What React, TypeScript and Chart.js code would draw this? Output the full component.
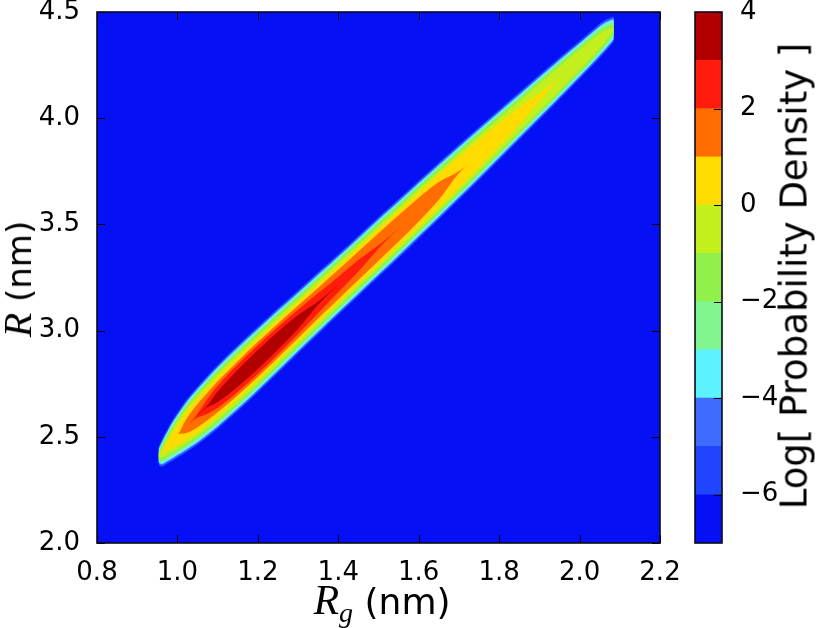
import React, { useEffect, useRef } from "react";
import { Chart, registerables } from "chart.js";
Chart.register(...registerables);

// ---------- data ----------
// stations along Rg (nm) where contour outlines were read
const rgStations = [0.953, 0.96, 0.975, 0.99, 1.005, 1.02, 1.045, 1.075, 1.1, 1.15, 1.2, 1.25, 1.3, 1.355, 1.4, 1.45, 1.51, 1.55, 1.6, 1.65, 1.7, 1.75, 1.8, 1.85, 1.915, 1.95, 2.0, 2.03, 2.06, 2.085];
// ridge centre R (nm) at each station
const ridgeCenter = [2.41, 2.42, 2.455, 2.488, 2.518, 2.547, 2.591, 2.644, 2.688, 2.776, 2.864, 2.953, 3.041, 3.138, 3.217, 3.305, 3.411, 3.481, 3.57, 3.658, 3.746, 3.834, 3.922, 4.01, 4.125, 4.187, 4.275, 4.328, 4.381, 4.42];
// vertical half-width (nm) of each contour level at each station
const hwLevelM6 = [0.043, 0.061, 0.082, 0.098, 0.111, 0.122, 0.135, 0.145, 0.151, 0.155, 0.155, 0.153, 0.149, 0.146, 0.144, 0.142, 0.141, 0.139, 0.137, 0.134, 0.13, 0.125, 0.119, 0.112, 0.104, 0.099, 0.09, 0.085, 0.078, 0.06];
const hwLevelM5 = [0.037, 0.056, 0.075, 0.093, 0.104, 0.117, 0.128, 0.14, 0.144, 0.15, 0.148, 0.148, 0.142, 0.141, 0.137, 0.137, 0.134, 0.134, 0.13, 0.129, 0.123, 0.12, 0.112, 0.107, 0.097, 0.093, 0.083, 0.079, 0.071, 0.054];
const hwLevelM4 = [0.03, 0.048, 0.069, 0.085, 0.098, 0.109, 0.122, 0.132, 0.138, 0.142, 0.142, 0.14, 0.136, 0.133, 0.131, 0.129, 0.128, 0.126, 0.124, 0.121, 0.117, 0.112, 0.106, 0.099, 0.091, 0.086, 0.077, 0.072, 0.064, 0.047];
const hwLevelM3 = [0.022, 0.04, 0.061, 0.077, 0.09, 0.101, 0.114, 0.124, 0.13, 0.134, 0.134, 0.132, 0.128, 0.125, 0.123, 0.121, 0.12, 0.118, 0.116, 0.113, 0.109, 0.104, 0.098, 0.091, 0.083, 0.078, 0.069, 0.064, 0.055, 0.038];
const hwLevelM2 = [0.014, 0.031, 0.052, 0.068, 0.081, 0.092, 0.105, 0.115, 0.121, 0.125, 0.125, 0.123, 0.119, 0.116, 0.114, 0.112, 0.111, 0.109, 0.107, 0.104, 0.1, 0.095, 0.089, 0.082, 0.074, 0.069, 0.06, 0.055, 0.045, 0.026];
const hwLevelM1 = [0.004, 0.02, 0.04, 0.056, 0.069, 0.08, 0.093, 0.103, 0.109, 0.113, 0.113, 0.111, 0.107, 0.104, 0.102, 0.1, 0.099, 0.097, 0.095, 0.092, 0.088, 0.083, 0.077, 0.07, 0.061, 0.056, 0.047, 0.04, 0.028, 0.006];
const hwLevel0 = [0, 0, 0.018, 0.036, 0.052, 0.064, 0.077, 0.087, 0.093, 0.097, 0.098, 0.096, 0.092, 0.088, 0.086, 0.085, 0.084, 0.082, 0.08, 0.077, 0.072, 0.064, 0.054, 0.04, 0.012, 0, 0, 0, 0, 0];
const hwLevel1 = [0, 0, 0, 0, 0.004, 0.03, 0.052, 0.065, 0.073, 0.08, 0.083, 0.081, 0.077, 0.072, 0.069, 0.067, 0.065, 0.062, 0.056, 0.042, 0.004, 0, 0, 0, 0, 0, 0, 0, 0, 0];
const hwLevel2 = [0, 0, 0, 0, 0, 0, 0.005, 0.035, 0.052, 0.064, 0.067, 0.064, 0.057, 0.046, 0.037, 0.027, 0.005, 0, 0, 0, 0, 0, 0, 0, 0, 0, 0, 0, 0, 0];
const hwLevel3 = [0, 0, 0, 0, 0, 0, 0, 0.004, 0.025, 0.04, 0.045, 0.042, 0.032, 0.006, 0, 0, 0, 0, 0, 0, 0, 0, 0, 0, 0, 0, 0, 0, 0, 0];

// colour-bar bounds and band colours (Log[ Probability Density ])
const cbBounds = [-7, -6, -5, -4, -3, -2, -1, 0, 1, 2, 3, 4];
const bandColors = ["#0610f5", "#2145ff", "#3d6cff", "#5cf2ff", "#80f590", "#92f04a", "#c3f01c", "#ffdb00", "#ff6c00", "#ff1c0c", "#b20000"];
const cbTicks = [-6, -4, -2, 0, 2, 4];
const xTicks = [0.8, 1.0, 1.2, 1.4, 1.6, 1.8, 2.0, 2.2];
const yTicks = [2.0, 2.5, 3.0, 3.5, 4.0, 4.5];

const levelHalfWidths = [hwLevelM6, hwLevelM5, hwLevelM4, hwLevelM3, hwLevelM2, hwLevelM1, hwLevel0, hwLevel1, hwLevel2, hwLevel3];

const FONT = "DejaVu Sans";

const mainPlugin = {
  id: "mainFrame",
  beforeDatasetsDraw(chart: any) {
    const { ctx, chartArea: a } = chart;
    ctx.save();
    ctx.fillStyle = bandColors[0];
    ctx.fillRect(a.left, a.top, a.right - a.left, a.bottom - a.top);
    ctx.restore();
  },
  afterDatasetsDraw(chart: any) {
    const { ctx, chartArea: a, scales } = chart;
    ctx.save();
    ctx.strokeStyle = "#000";
    ctx.lineWidth = 1;
    ctx.beginPath();
    scales.x.ticks.forEach((t: any) => {
      const p = Math.round(scales.x.getPixelForValue(t.value)) + 0.5;
      ctx.moveTo(p, a.bottom); ctx.lineTo(p, a.bottom - 8);
      ctx.moveTo(p, a.top); ctx.lineTo(p, a.top + 8);
    });
    scales.y.ticks.forEach((t: any) => {
      const p = Math.round(scales.y.getPixelForValue(t.value)) + 0.5;
      ctx.moveTo(a.left, p); ctx.lineTo(a.left + 8, p);
      ctx.moveTo(a.right, p); ctx.lineTo(a.right - 8, p);
    });
    ctx.stroke();
    ctx.lineWidth = 1.6;
    ctx.strokeStyle = "#0a0a1a";
    ctx.strokeRect(a.left, a.top, a.right - a.left, a.bottom - a.top);
    ctx.restore();
  },
};

const cbPlugin = {
  id: "cbFrame",
  afterDatasetsDraw(chart: any) {
    const { ctx, chartArea: a, scales } = chart;
    ctx.save();
    ctx.strokeStyle = "#000";
    ctx.lineWidth = 1;
    ctx.beginPath();
    scales.y.ticks.forEach((t: any) => {
      const p = Math.round(scales.y.getPixelForValue(t.value)) + 0.5;
      ctx.moveTo(a.right, p); ctx.lineTo(a.right - 8, p);
    });
    ctx.stroke();
    ctx.lineWidth = 1.6;
    ctx.strokeStyle = "#0a0a1a";
    ctx.strokeRect(a.left, a.top, a.right - a.left, a.bottom - a.top);
    ctx.restore();
  },
};

function fmtMinus(v: number) {
  return v < 0 ? "\u2212" + Math.abs(v) : String(v);
}

export default function App() {
  const mainRef = useRef<HTMLCanvasElement | null>(null);
  const cbRef = useRef<HTMLCanvasElement | null>(null);

  useEffect(() => {
    Chart.defaults.font.family = FONT;
    const datasets: any[] = [];
    levelHalfWidths.forEach((hw, k) => {
      const idx: number[] = [];
      hw.forEach((w, i) => {
        if (w > 0 || (i > 0 && hw[i - 1] > 0) || (i < hw.length - 1 && hw[i + 1] > 0)) idx.push(i);
      });
      const upper = idx.map((i) => ({ x: rgStations[i], y: ridgeCenter[i] + hw[i] }));
      const lower = idx.map((i) => ({ x: rgStations[i], y: ridgeCenter[i] - hw[i] }));
      const color = bandColors[k + 1];
      datasets.push({
        data: upper, fill: "+1", backgroundColor: color, borderColor: "rgba(0,0,0,0)",
        borderWidth: 0, pointRadius: 0, order: 100 - k, cubicInterpolationMode: "monotone",
      });
      datasets.push({
        data: lower, fill: false, backgroundColor: color, borderColor: "rgba(0,0,0,0)",
        borderWidth: 0, pointRadius: 0, order: 100 - k, cubicInterpolationMode: "monotone",
      });
    });

    const tickFont = { family: FONT, size: 26, lineHeight: 1 };
    const main = new Chart(mainRef.current!, {
      type: "line",
      data: { datasets },
      options: {
        animation: false,
        responsive: false,
        layout: { padding: { top: 32, right: 30, left: 0, bottom: 0 } },
        plugins: { legend: { display: false }, tooltip: { enabled: false } },
        scales: {
          x: {
            type: "linear", min: 0.8, max: 2.2,
            grid: { display: false }, border: { display: false },
            afterBuildTicks: (s: any) => { s.ticks = xTicks.map((v) => ({ value: v })); },
            afterFit: (s: any) => { s.height = 85; },
            ticks: { font: tickFont, color: "#000", padding: 9, maxRotation: 0, callback: (v: any) => Number(v).toFixed(1) },
          },
          y: {
            type: "linear", min: 2, max: 4.5,
            grid: { display: false }, border: { display: false },
            afterBuildTicks: (s: any) => { s.ticks = yTicks.map((v) => ({ value: v })); },
            afterFit: (s: any) => { s.width = 97; },
            ticks: { font: tickFont, color: "#000", padding: 9, callback: (v: any) => Number(v).toFixed(1) },
          },
        },
      } as any,
      plugins: [mainPlugin],
    });

    const cbDatasets = bandColors.map((c, i) => ({
      data: [[cbBounds[i], cbBounds[i + 1]]],
      backgroundColor: c, borderWidth: 0, barPercentage: 1, categoryPercentage: 1, grouped: false,
    }));
    const cb = new Chart(cbRef.current!, {
      type: "bar",
      data: { labels: [""], datasets: cbDatasets as any },
      options: {
        animation: false,
        responsive: false,
        layout: { padding: { top: 32, left: 15, bottom: 85, right: 0 } },
        plugins: { legend: { display: false }, tooltip: { enabled: false } },
        scales: {
          x: { display: false },
          y: {
            type: "linear", position: "right", min: -7, max: 4,
            grid: { display: false }, border: { display: false },
            afterBuildTicks: (s: any) => { s.ticks = cbTicks.map((v) => ({ value: v })); },
            afterFit: (s: any) => { s.width = 94; },
            ticks: { font: tickFont, color: "#000", padding: 10, callback: (v: any) => fmtMinus(Number(v)) },
          },
        },
      } as any,
      plugins: [cbPlugin],
    });

    return () => { main.destroy(); cb.destroy(); };
  }, []);

  return (
    <div style={{ position: "absolute", left: 0, top: 0, width: 816, height: 628, background: "#fff", overflow: "hidden" }}>
      <canvas ref={mainRef} width={690} height={648} style={{ position: "absolute", left: 0, top: -20 }} />
      <canvas ref={cbRef} width={136} height={648} style={{ position: "absolute", left: 680, top: -20 }} />
      <div style={{ position: "absolute", left: 18, top: 279, transform: "translate(-50%,-50%) rotate(-90deg)", whiteSpace: "nowrap", fontFamily: FONT, fontSize: 34, lineHeight: 1, color: "#000" }}>
        <span style={{ fontFamily: "Liberation Serif", fontStyle: "italic", fontSize: 40 }}>R</span> (nm)
      </div>
      <div style={{ position: "absolute", left: 382, top: 603, transform: "translate(-50%,-50%)", whiteSpace: "nowrap", fontFamily: FONT, fontSize: 36, lineHeight: 1, color: "#000" }}>
        <span style={{ fontFamily: "Liberation Serif", fontStyle: "italic", fontSize: 42 }}>R</span>
        <sub style={{ fontFamily: "Liberation Serif", fontStyle: "italic", fontSize: 28, verticalAlign: "-0.3em" }}>g</sub> (nm)
      </div>
      <div style={{ position: "absolute", left: 794, top: 276, transform: "translate(-50%,-50%) rotate(-90deg)", whiteSpace: "nowrap", fontFamily: FONT, fontSize: 37, lineHeight: 1, color: "#000" }}>
        Log[ Probability Density ]
      </div>
    </div>
  );
}
